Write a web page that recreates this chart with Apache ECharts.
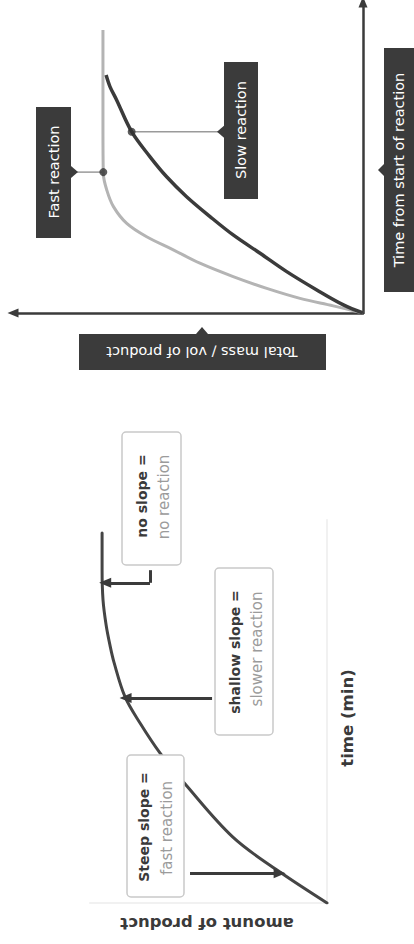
<!DOCTYPE html>
<html>
<head>
<meta charset="utf-8">
<script src="https://cdn.jsdelivr.net/npm/echarts@6/dist/echarts.min.js"></script>
<style>
html, body { margin: 0; padding: 0; background: #fff; }
#main { width: 414px; height: 944px; }
</style>
</head>
<body>
<div id="main"></div>
<script>
// the whole picture is lying on its side: time runs up, amount runs left

// top chart: [mass, time]
var fastCurve = [[0, 0], [8.5, 2.3], [18.0, 4.7], [27.5, 7.9], [37.1, 11.7], [46.6, 16.0], [54.2, 20.3],
  [61.8, 24.5], [67.5, 28.8], [71.3, 34.2], [73.2, 39.5], [74.2, 44.9], [74.3, 60], [74.3, 91]];
var slowCurve = [[0, 0], [5.6, 2.6], [13.2, 7.4], [21.8, 13.3], [29.4, 19.2], [37.1, 25.1], [43.7, 31.0],
  [50.4, 37.4], [56.1, 43.8], [60.9, 50.3], [66.1, 58.3], [70.4, 68.5], [72.3, 72.8], [73.4, 76.5]];
var fastDot = [74.2, 45.3];
var slowDot = [66.1, 58.3];

// bottom chart: [amount, time]
var productCurve = [[0, 0], [21.1, 8.6], [39.7, 17.2], [59.5, 30.8], [70.5, 39.2], [78.9, 47.0], [85.2, 53.8],
  [89.9, 62.9], [91.6, 67.4], [93.2, 72.6], [94.5, 79.1], [94.9, 86.9], [94.9, 96.6]];
var noSlopeArrow = [[74.7, 86.9], [74.7, 83.6], [93.6, 83.6]];
var shallowArrow = [[48.5, 53.5], [85.0, 53.5]];
var steepArrow = [[57.8, 7.8], [20.0, 7.8]];

var dark = '#3b3b3b';
var tagFont = '"DejaVu Sans", sans-serif';

var chart = echarts.init(document.getElementById('main'), null, { renderer: 'svg' });

function tagText(x, y, rot, text) {
  return {
    type: 'text', x: x, y: y, rotation: rot, z: 20,
    style: { text: text, fill: '#fff', font: '14.5px ' + tagFont, align: 'center', verticalAlign: 'middle',
      textAlign: 'center', textVerticalAlign: 'middle' }
  };
}
function noteText(x, y, text, bold, color, size) {
  return {
    type: 'text', x: x, y: y, rotation: Math.PI / 2, z: 20,
    style: { text: text, fill: color, font: (bold ? 'bold ' : '') + size + 'px ' + tagFont,
      align: 'center', verticalAlign: 'middle', textAlign: 'center', textVerticalAlign: 'middle' }
  };
}
function noteBox(x, y, w, h) {
  return { type: 'rect', z: 15, shape: { x: x, y: y, width: w, height: h, r: 4 },
    style: { fill: '#fff', stroke: '#c9c9c9', lineWidth: 1.5 } };
}

var option = {
  animation: false,
  backgroundColor: '#fff',
  grid: [
    { left: 13, right: 51, top: 2, bottom: 631 },
    { left: 90, right: 87, top: 520, bottom: 41 }
  ],
  xAxis: [
    { gridIndex: 0, type: 'value', inverse: true, min: 0, max: 100,
      axisLine: { show: true, symbol: ['triangle', 'none'], symbolSize: [9, 11], lineStyle: { color: dark, width: 2.5 } },
      axisTick: { show: false }, axisLabel: { show: false }, splitLine: { show: false } },
    { gridIndex: 1, type: 'value', inverse: true, min: 0, max: 100,
      axisLine: { show: true, lineStyle: { color: '#f1f1f1', width: 2 } },
      axisTick: { show: false }, axisLabel: { show: false }, splitLine: { show: false } }
  ],
  yAxis: [
    { gridIndex: 0, type: 'value', position: 'right', min: 0, max: 100,
      axisLine: { show: true, symbol: ['none', 'triangle'], symbolSize: [9, 11], lineStyle: { color: dark, width: 2.5 } },
      axisTick: { show: false }, axisLabel: { show: false }, splitLine: { show: false } },
    { gridIndex: 1, type: 'value', position: 'right', min: 0, max: 100,
      axisLine: { show: true, lineStyle: { color: '#f1f1f1', width: 2 } },
      axisTick: { show: false }, axisLabel: { show: false }, splitLine: { show: false } }
  ],
  series: [
    { type: 'line', xAxisIndex: 0, yAxisIndex: 0, data: fastCurve, smooth: 0.35, showSymbol: false,
      lineStyle: { color: '#b4b4b4', width: 3 } },
    { type: 'line', xAxisIndex: 0, yAxisIndex: 0, data: slowCurve, smooth: 0.35, showSymbol: false,
      lineStyle: { color: dark, width: 3.5 } },
    { type: 'scatter', xAxisIndex: 0, yAxisIndex: 0, data: [fastDot, slowDot], symbolSize: 8, z: 5,
      itemStyle: { color: '#333' } },
    { type: 'line', xAxisIndex: 1, yAxisIndex: 1, data: productCurve, smooth: 0.35, showSymbol: false,
      lineStyle: { color: '#454545', width: 3, cap: 'round' },
      markLine: {
        silent: true, animation: false, label: { show: false },
        lineStyle: { color: dark, width: 3, type: 'solid' },
        symbolSize: [10, 12],
        data: [
          [{ coord: noSlopeArrow[0], symbol: 'none' }, { coord: noSlopeArrow[1], symbol: 'none' }],
          [{ coord: noSlopeArrow[1], symbol: 'none' }, { coord: noSlopeArrow[2], symbol: 'triangle' }],
          [{ coord: shallowArrow[0], symbol: 'none' }, { coord: shallowArrow[1], symbol: 'triangle' }],
          [{ coord: steepArrow[0], symbol: 'none' }, { coord: steepArrow[1], symbol: 'triangle' }]
        ]
      } }
  ]
};
chart.setOption(option);

var fp = chart.convertToPixel({ gridIndex: 0 }, fastDot);
var sp = chart.convertToPixel({ gridIndex: 0 }, slowDot);

chart.setOption({
  graphic: [
    // callouts on the top chart
    { type: 'line', z: 3, shape: { x1: 77, y1: fp[1], x2: fp[0], y2: fp[1] }, style: { stroke: '#9a9a9a', lineWidth: 1.5 } },
    { type: 'rect', z: 10, shape: { x: 36, y: 107, width: 35, height: 131 }, style: { fill: dark } },
    { type: 'polygon', z: 10, shape: { points: [[71, fp[1] - 6], [78, fp[1]], [71, fp[1] + 6]] }, style: { fill: dark } },
    tagText(54, 172, Math.PI / 2, 'Fast reaction'),

    { type: 'line', z: 3, shape: { x1: 218, y1: sp[1], x2: sp[0], y2: sp[1] }, style: { stroke: '#9a9a9a', lineWidth: 1.5 } },
    { type: 'rect', z: 10, shape: { x: 224, y: 62, width: 34, height: 137 }, style: { fill: dark } },
    { type: 'polygon', z: 10, shape: { points: [[224, sp[1] - 6], [217, sp[1]], [224, sp[1] + 6]] }, style: { fill: dark } },
    tagText(241, 130, Math.PI / 2, 'Slow reaction'),

    // axis name tags
    { type: 'rect', z: 10, shape: { x: 384, y: 48, width: 30, height: 244 }, style: { fill: dark } },
    { type: 'polygon', z: 10, shape: { points: [[384, 164], [378, 170], [384, 176]] }, style: { fill: dark } },
    tagText(399, 170, Math.PI / 2, 'Time from start of reaction'),

    { type: 'rect', z: 10, shape: { x: 79, y: 334, width: 247, height: 36 }, style: { fill: dark } },
    { type: 'polygon', z: 10, shape: { points: [[196, 334], [202, 327], [208, 334]] }, style: { fill: dark } },
    tagText(202, 352, Math.PI, 'Total mass / vol of product'),

    // notes on the bottom chart
    noteBox(122, 432, 59, 133),
    noteText(142, 496, 'no slope =', true, '#3a3a3a', 14),
    noteText(164, 497, 'no reaction', false, '#9b9b9b', 15),

    noteBox(215, 568, 58, 167),
    noteText(235, 652, 'shallow slope =', true, '#3a3a3a', 14),
    noteText(257, 649, 'slower reaction', false, '#9b9b9b', 15),

    noteBox(127, 755, 57, 142),
    noteText(144, 827, 'Steep slope =', true, '#3a3a3a', 14),
    noteText(167, 828, 'fast reaction', false, '#9b9b9b', 15),

    noteText(347, 718, 'time (min)', true, '#3a3a3a', 16.5),
    { type: 'text', x: 207, y: 923, rotation: Math.PI, z: 20,
      style: { text: 'amount of product', fill: '#3a3a3a', font: 'bold 16.5px ' + tagFont,
        align: 'center', verticalAlign: 'middle', textAlign: 'center', textVerticalAlign: 'middle' } }
  ]
});
</script>
</body>
</html>
